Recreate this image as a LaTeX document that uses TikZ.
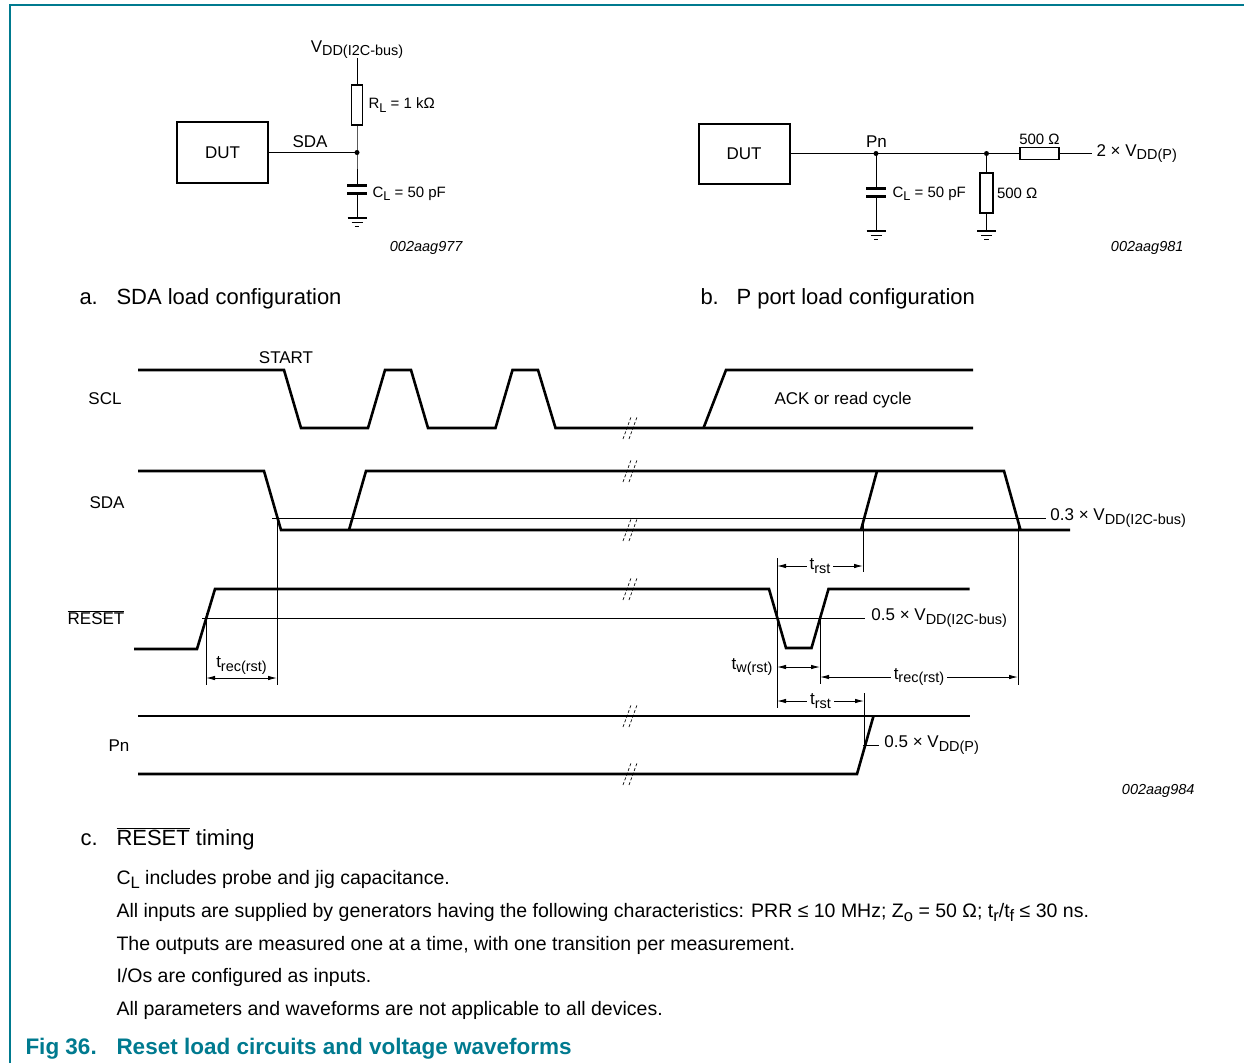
\documentclass[tikz,border=0pt]{standalone}
\usepackage{fontspec}
\setmainfont{Liberation Sans}
\usetikzlibrary{arrows.meta,positioning}

\definecolor{nxpteal}{RGB}{0,122,143}
\def\lblsize{\fontsize{17}{20}\selectfont}
\def\valsize{\fontsize{15}{18}\selectfont}
\def\codesize{\fontsize{14.5}{17}\selectfont}
\def\capsize{\fontsize{22}{26}\selectfont}
\def\notesize{\fontsize{19.5}{23}\selectfont}
\newcommand{\dsub}[1]{\raisebox{-0.4ex}{\scalebox{0.85}{#1}}}
\newcommand{\negbar}[1]{$\overline{\mbox{#1}}$}

\begin{document}
\begin{tikzpicture}[x=1pt,y=-1pt,line width=1pt,line join=miter]
        \tikzstyle{wave}=[line width=2.6pt]
        \tikzstyle{refline}=[line width=0.9pt]
        \tikzstyle{dimarrow}=[refline,{Latex[length=9pt,width=4.5pt]}-{Latex[length=9pt,width=4.5pt]}]
        \tikzstyle{dut}=[draw,line width=2pt,minimum width=91pt,minimum height=61pt,inner sep=0pt,font=\lblsize]
        \tikzstyle{resistor}=[draw,line width=1.1pt,inner sep=0pt]
        \tikzstyle{plate}=[line width=3pt]
        \tikzstyle{lbl}=[inner sep=0pt,font=\lblsize]
        \tikzstyle{val}=[inner sep=0pt,font=\valsize]
        \tikzstyle{code}=[inner sep=0pt,font=\codesize\itshape]
        \tikzstyle{note}=[inner sep=0pt,font=\notesize,anchor=base west]
        \tikzstyle{brk}=[line width=0.7pt,dash pattern=on 3pt off 2pt]

        \useasboundingbox (0,0) rectangle (1244,1063);

        % Frame
        \draw[nxpteal,line width=1.6pt] (10,1063) -- (10,5) -- (1244,5);

        % a. SDA load circuit
        \node[dut] (dutA) at (222.5,152.5) {DUT};
        \node[lbl,anchor=base] (vddA) at (357,52) {V\dsub{DD(I2C-bus)}};
        \coordinate (vtopA) at (357,58);
        \node[resistor,minimum width=11pt,minimum height=40pt] (rA) at (357,105) {};
        \coordinate (jA) at (357,152.5);
        \coordinate (capAt) at (357,185.5);
        \coordinate (capAb) at (357,193);
        \coordinate (gndA) at (357,218);
        \draw (vtopA) -- (rA.north);
        \draw (rA.south) -- (jA) -- (capAt);
        \draw (dutA.east) -- (jA);
        \draw (capAb) -- (gndA);
        \draw[plate] ([xshift=-10pt]capAt) -- ([xshift=10pt]capAt);
        \draw[plate] ([xshift=-10pt]capAb) -- ([xshift=10pt]capAb);
        \fill (jA) circle (2.5pt);
        \node[val,right=5pt of rA] (rlA) {R\dsub{L} = 1 kΩ};
        \node[lbl,anchor=base] (sdaA) at (310,147) {SDA};
        \node[val,anchor=base west] (clA) at (372,197) {C\dsub{L} = 50 pF};
        \node[code,anchor=base east] (idA) at (463,251) {002aag977};

        % b. P port load circuit
        \node[dut,minimum height=60pt] (dutB) at (744,153.5) {DUT};
        \coordinate (jB) at (876,153.5);
        \coordinate (jC) at (986.5,153.5);
        \coordinate (vpB) at (1092,153.5);
        \coordinate (capBt) at (876,188.5);
        \coordinate (capBb) at (876,196);
        \coordinate (gndB) at (876,231);
        \coordinate (gndC) at (986.5,231);
        \node[resistor,minimum width=13pt,minimum height=40pt] (rB) at (986.5,193) {};
        \node[resistor,minimum width=39pt,minimum height=12pt] (rC) at (1039.5,153.5) {};
        \draw (dutB.east) -- (jB) -- (jC) -- (rC.west);
        \draw (rC.east) -- (vpB);
        \draw (jB) -- (capBt);
        \draw (capBb) -- (gndB);
        \draw (jC) -- (rB.north);
        \draw (rB.south) -- (gndC);
        \draw[plate] ([xshift=-10pt]capBt) -- ([xshift=10pt]capBt);
        \draw[plate] ([xshift=-10pt]capBb) -- ([xshift=10pt]capBb);
        \fill (jB) circle (2.5pt);
        \fill (jC) circle (2.5pt);
        \node[lbl,anchor=base] (pnB) at (876.5,147) {Pn};
        \node[val,anchor=base west] (clB) at (892,197) {C\dsub{L} = 50 pF};
        \node[val,above=2pt of rC] (rcB) {500 Ω};
        \node[val,right=3pt of rB] (rbB) {500 Ω};
        \node[lbl,right=4pt of vpB] (vddB) {2 × V\dsub{DD(P)}};
        \node[code,anchor=base east] (idB) at (1184,251) {002aag981};

        % Ground symbols
        \foreach \gx/\gy in {357/218, 876/231, 986.5/231}
            \draw[line width=1.1pt] (\gx-9.5,\gy) -- (\gx+9.5,\gy)
                (\gx-5.5,\gy+4.3) -- (\gx+5.5,\gy+4.3)
                (\gx-2.2,\gy+8.4) -- (\gx+2.2,\gy+8.4);

        % Sub captions
        \node[inner sep=0pt,font=\capsize,anchor=base west] (capa) at (79,304) {a.};
        \node[inner sep=0pt,font=\capsize,anchor=base west] (capatxt) at (116,304) {SDA load configuration};
        \node[inner sep=0pt,font=\capsize,anchor=base west] (capb) at (700,304) {b.};
        \node[inner sep=0pt,font=\capsize,anchor=base west] (capbtxt) at (736,304) {P port load configuration};

        % c. Timing: signal names
        \node[lbl,anchor=base] (scl) at (105,404) {SCL};
        \node[lbl,anchor=base] (sda) at (107,508) {SDA};
        \node[lbl,anchor=base] (rst) at (96,624) {\negbar{RESET}};
        \node[lbl,anchor=base] (pn) at (119,751) {Pn};
        \node[lbl,anchor=base] (start) at (286,363) {START};
        \node[lbl,anchor=base] (ack) at (843,404) {ACK or read cycle};

        % Waveforms
        \draw[wave] (138,370) -- (284,370) -- (301,428) -- (368,428) -- (385,370) -- (411,370)
            -- (428,428) -- (495.5,428) -- (512.5,370) -- (538,370) -- (555.5,428) -- (973,428);
        \draw[wave] (703.5,428) -- (726,370) -- (973,370);
        \draw[wave] (138,471) -- (264,471) -- (281,530) -- (1070,530);
        \draw[wave] (349,530) -- (366,471) -- (1004,471) -- (1020.5,530);
        \draw[wave] (861,530) -- (877,471);
        \draw[wave] (134,649) -- (197,649) -- (215,589) -- (769,589) -- (786,648)
            -- (811.5,648) -- (828.5,589) -- (969.5,589);
        \draw[wave] (138,716) -- (969.5,716);
        \draw[wave] (138,774) -- (857,774) -- (873.5,716);

        % Breaks
        \foreach \y in {428,471,530,589,716,774}
            \foreach \x in {627,633}
                \draw[brk] (\x-4,\y+11) -- (\x+4,\y-11);

        % Levels
        \coordinate (sdaF) at (277,518);
        \coordinate (sdaR) at (863,518);
        \coordinate (sdaF2) at (1018,518);
        \coordinate (rstR) at (206,618);
        \coordinate (rstF) at (777,618);
        \coordinate (rstR2) at (820,618);
        \coordinate (pnR) at (864,745);
        \draw[refline] (272,518) -- (1046,518) node[lbl,right=4pt] (lvsda) {0.3 × V\dsub{DD(I2C-bus)}};
        \draw[refline] (202,618) -- (865,618) node[lbl,right=6pt] (lvrst) {0.5 × V\dsub{DD(I2C-bus)}};
        \draw[refline] (863,745) -- (879,745) node[lbl,right=5pt] (lvpn) {0.5 × V\dsub{DD(P)}};

        % Reference lines
        \draw[refline] (sdaF) -- ++(0,167);
        \draw[refline] ([yshift=5pt]rstR) -- ++(0,72);
        \draw[refline] (sdaR) -- ++(0,54);
        \draw[refline] (sdaF2) -- ++(0,167);
        \draw[refline] (777,558) -- (rstF) -- (777,708);
        \draw[refline] (rstR2) -- ++(0,66);
        \draw[refline] (pnR) -- ++(0,-52);

        % Timing arrows
        \draw[dimarrow] (rstR |- 0,678) -- node[lbl,above=3pt] (trecA) {t\dsub{rec(rst)}} (sdaF |- 0,678);
        \draw[dimarrow] (rstF |- 0,566) -- node[lbl,fill=white,inner xsep=3pt] (trstA) {t\dsub{rst}} (sdaR |- 0,566);
        \draw[dimarrow] (rstF |- 0,667) -- (rstR2 |- 0,667);
        \node[lbl,left=4pt of {rstF |- 0,667}] (tw) {t\dsub{w(rst)}};
        \draw[dimarrow] (rstR2 |- 0,677) -- node[lbl,fill=white,inner xsep=3pt] (trecB) {t\dsub{rec(rst)}} (sdaF2 |- 0,677);
        \draw[dimarrow] (rstF |- 0,701) -- node[lbl,fill=white,inner xsep=3pt] (trstB) {t\dsub{rst}} (pnR |- 0,701);
        \node[code,anchor=base east] (idC) at (1195,794) {002aag984};

        % c. caption and notes
        \node[inner sep=0pt,font=\capsize,anchor=base west] (capc) at (80,845) {c.};
        \node[inner sep=0pt,font=\capsize,anchor=base west] (capctxt) at (116,845) {\negbar{RESET} timing};
        \node[note] (n1) at (116,884) {C\dsub{L} includes probe and jig capacitance.};
        \node[note] (n2) at (116,917) {All inputs are supplied by generators having the following characteristics: PRR ≤ 10 MHz; Z\dsub{o} = 50 Ω; t\dsub{r}/t\dsub{f} ≤ 30 ns.};
        \node[note] (n3) at (116,950) {The outputs are measured one at a time, with one transition per measurement.};
        \node[note] (n4) at (116,982) {I/Os are configured as inputs.};
        \node[note] (n5) at (116,1015) {All parameters and waveforms are not applicable to all devices.};

        % Figure title
        \node[inner sep=0pt,font=\fontsize{22.5}{26}\selectfont\bfseries,text=nxpteal,anchor=base west] (fig) at (25,1054) {Fig 36.};
        \node[inner sep=0pt,font=\fontsize{22.5}{26}\selectfont\bfseries,text=nxpteal,anchor=base west] (figtxt) at (116,1054) {Reset load circuits and voltage waveforms};
\end{tikzpicture}
\end{document}
